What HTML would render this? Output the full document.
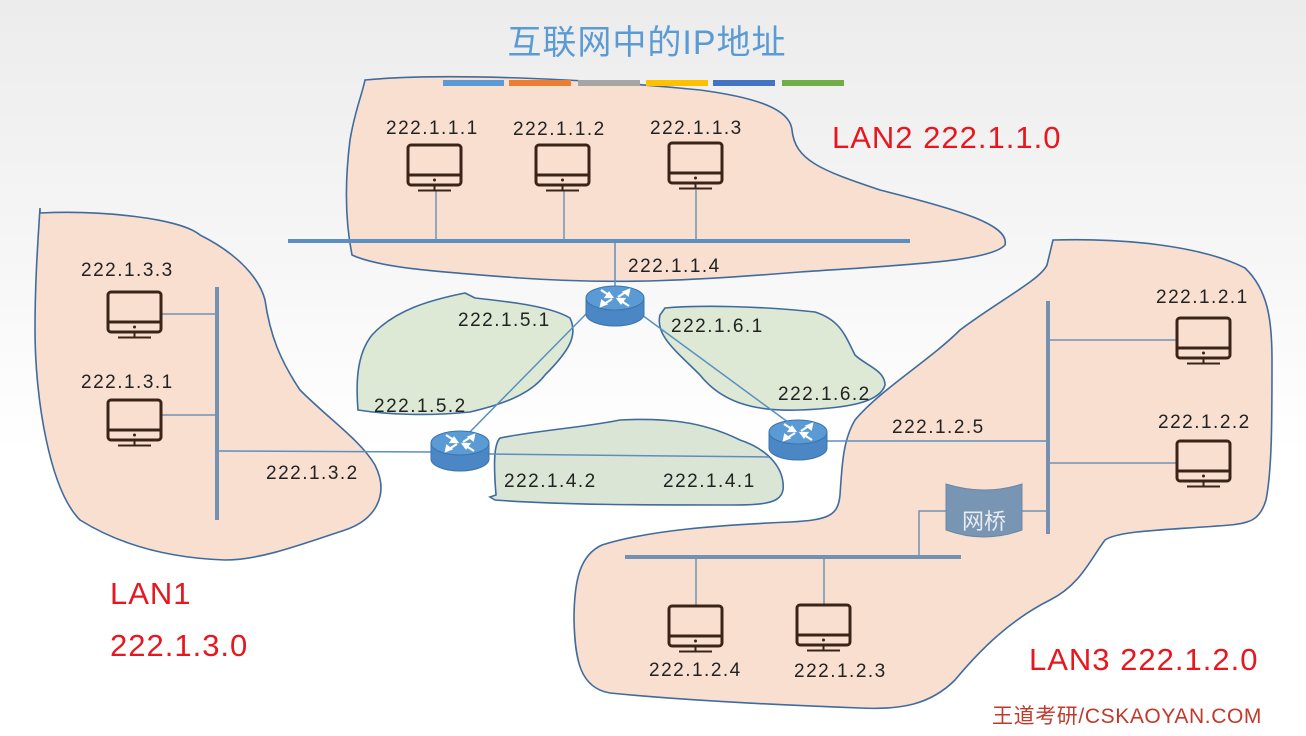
<!DOCTYPE html>
<html><head><meta charset="utf-8"><style>
body{margin:0;width:1306px;height:736px;overflow:hidden;background:linear-gradient(#ececec 0px,#f6f6f6 250px,#fff 450px,#fff);}
svg{position:absolute;left:0;top:0}
text{font-family:"Liberation Sans","Noto Sans CJK SC",sans-serif}
</style></head><body>
<svg width="1306" height="736" viewBox="0 0 1306 736">
<defs>
<g id="mon" fill="none" stroke="#3a2418" stroke-width="3">
<rect x="0" y="0" width="53" height="40" rx="3"/>
<line x1="0" y1="30" x2="53" y2="30"/>
<circle cx="26.5" cy="35" r="1.5" fill="#3a2418" stroke="none"/>
<line x1="26.5" y1="40" x2="26.5" y2="45" stroke-width="2"/>
<line x1="10" y1="45.5" x2="43" y2="45.5" stroke-width="2"/>
</g>
<g id="rt">
<path d="M-29,-6 L-29,10 A29,12 0 0 0 29,10 L29,-6 Z" fill="#4a87c4" stroke="#3c74ad" stroke-width="1"/>
<ellipse cx="0" cy="-6" rx="29" ry="12" fill="#5b9bd5" stroke="#3c74ad" stroke-width="1"/>
<g fill="#fff" stroke="#fff" stroke-width="2.2">
<path d="M-14,-14 L-3,-7" /><path d="M-3,-7 l-6,0 l3,-4z"/>
<path d="M14,2 L3,-5"/><path d="M3,-5 l6,0 l-3,4z"/>
<path d="M-14,2 L-3,-5"/><path d="M-14,2 l1,-5 l4,3z"/>
<path d="M14,-14 L3,-7"/><path d="M14,-14 l-1,5 l-4,-3z"/>
</g>
</g>
</defs>

<text x="647" y="54" font-size="34" fill="#5b9bd5" text-anchor="middle" letter-spacing="1">互联网中的IP地址</text>

<g fill="#f9dfd0" stroke="#3f6b9e" stroke-width="1.6">
<path d="M365,80 C450,72 600,80 700,90 C760,98 790,110 792,130 C795,160 820,170 880,190 C960,210 1010,225 1005,245 C990,262 900,265 800,272 C700,280 620,285 520,278 C440,272 380,268 352,255 C345,220 345,180 350,140 C355,110 362,95 365,80 Z"/>
<path d="M40,208 L40,213 C100,210 180,218 200,235 C240,255 260,280 265,300 C270,335 280,360 300,390 C330,420 360,440 375,465 C390,495 375,520 345,530 C300,545 260,560 225,560 C170,558 120,545 80,520 C50,490 35,400 35,330 C35,280 38,240 40,208 Z"/>
<path d="M1053,240 C1120,238 1200,245 1245,268 C1268,290 1272,320 1272,360 C1272,420 1272,470 1266,500 C1260,520 1250,523 1230,525 C1170,530 1120,530 1105,540 C1090,560 1080,585 1050,600 C1010,620 980,650 955,680 C930,705 900,710 860,708 C780,705 680,700 610,693 C580,688 575,660 574,620 C574,580 580,555 602,545 C650,530 720,525 790,522 C830,520 838,515 840,495 C842,465 843,440 855,420 C880,390 930,360 960,330 C1000,300 1040,280 1047,265 Z"/>
</g>

<g stroke-width="6">
<line x1="443" y1="83" x2="504" y2="83" stroke="#5b9bd5"/>
<line x1="509" y1="83" x2="571" y2="83" stroke="#ed7d31"/>
<line x1="578" y1="83" x2="640" y2="83" stroke="#a5a5a5"/>
<line x1="646" y1="83" x2="708" y2="83" stroke="#ffc000"/>
<line x1="713" y1="83" x2="775" y2="83" stroke="#4472c4"/>
<line x1="782" y1="83" x2="844" y2="83" stroke="#70ad47"/>
</g>

<g fill="#dde9d4" stroke="#3f6b9e" stroke-width="1.6">
<path d="M465,293 L475,298 C510,302 550,306 570,318 C578,335 570,350 545,375 C530,395 500,405 470,412 C430,416 390,415 358,410 C356,385 356,355 372,335 C395,310 430,300 465,293 Z"/>
<path d="M665,308 C700,305 760,306 815,312 C840,320 845,335 855,355 C865,365 885,370 885,385 C880,402 850,408 800,410 C750,412 720,400 700,375 C675,350 655,335 660,315 Z"/>
<path d="M500,438 C540,430 580,428 620,420 C660,418 700,420 740,440 C770,450 785,470 783,490 C780,505 760,505 720,505 C650,505 560,505 495,500 L490,497 L496,495 C494,470 493,445 500,438 Z" fill="#dbe5d5"/>
</g>

<g stroke="#5b8fc0" stroke-width="1.5" fill="none">
<line x1="615" y1="242" x2="615" y2="296"/>
<line x1="588" y1="312" x2="462" y2="440"/>
<line x1="642" y1="315" x2="796" y2="428"/>
<line x1="489" y1="454" x2="769" y2="457"/>
<line x1="219" y1="451" x2="431" y2="452"/>
<line x1="826" y1="441" x2="1048" y2="441"/>
</g>
<g stroke="#7392b3" stroke-width="1.5" fill="none">
<line x1="436" y1="190" x2="436" y2="241"/>
<line x1="564" y1="190" x2="564" y2="241"/>
<line x1="696" y1="190" x2="696" y2="241"/>
<line x1="161" y1="314" x2="217" y2="314"/>
<line x1="161" y1="415" x2="217" y2="415"/>
<line x1="1048" y1="340" x2="1177" y2="340"/>
<line x1="1048" y1="463" x2="1177" y2="463"/>
<line x1="1022" y1="511" x2="1048" y2="511"/>
<polyline points="946,511 919,511 919,557"/>
<line x1="696" y1="557" x2="696" y2="606"/>
<line x1="824" y1="557" x2="824" y2="605"/>
</g>
<g stroke-width="4">
<line x1="288" y1="241" x2="910" y2="241" stroke="#5b8fc0"/>
<line x1="217" y1="287" x2="217" y2="520" stroke="#7392b3"/>
<line x1="1048" y1="301" x2="1048" y2="534" stroke="#7392b3"/>
<line x1="625" y1="557" x2="961" y2="557" stroke="#7392b3"/>
</g>

<path d="M946,484 Q984,496 1022,484 L1022,530 Q984,544 946,530 Z" fill="#7896b4" stroke="#6a87a6"/>
<text x="984" y="529" font-size="22" fill="#e8ecf0" text-anchor="middle">网桥</text>

<use href="#rt" x="615" y="304"/>
<use href="#rt" x="460" y="449"/>
<use href="#rt" x="798" y="438"/>

<use href="#mon" x="408" y="145"/>
<use href="#mon" x="536" y="145"/>
<use href="#mon" x="669" y="143"/>
<use href="#mon" x="108" y="292"/>
<use href="#mon" x="108" y="400"/>
<use href="#mon" x="1177" y="318"/>
<use href="#mon" x="1177" y="441"/>
<use href="#mon" x="669" y="606"/>
<use href="#mon" x="797" y="605"/>

<g font-size="19" fill="#222" letter-spacing="1.5">
<text x="386" y="134">222.1.1.1</text>
<text x="513" y="135">222.1.1.2</text>
<text x="650" y="134">222.1.1.3</text>
<text x="628" y="272">222.1.1.4</text>
<text x="81" y="276">222.1.3.3</text>
<text x="81" y="388">222.1.3.1</text>
<text x="266" y="479">222.1.3.2</text>
<text x="458" y="326">222.1.5.1</text>
<text x="374" y="412">222.1.5.2</text>
<text x="671" y="332">222.1.6.1</text>
<text x="778" y="400">222.1.6.2</text>
<text x="504" y="487">222.1.4.2</text>
<text x="663" y="487">222.1.4.1</text>
<text x="892" y="433">222.1.2.5</text>
<text x="1156" y="303">222.1.2.1</text>
<text x="1158" y="428">222.1.2.2</text>
<text x="649" y="676">222.1.2.4</text>
<text x="794" y="677">222.1.2.3</text>
</g>
<g font-size="31" fill="#e8161f" letter-spacing="1">
<text x="832" y="148">LAN2 222.1.1.0</text>
<text x="110" y="604">LAN1</text>
<text x="110" y="656">222.1.3.0</text>
<text x="1029" y="670">LAN3 222.1.2.0</text>
</g>
<text x="992" y="723" font-size="21" fill="#c0392b" letter-spacing="0.6">王道考研/CSKAOYAN.COM</text>
</svg>
</body></html>
